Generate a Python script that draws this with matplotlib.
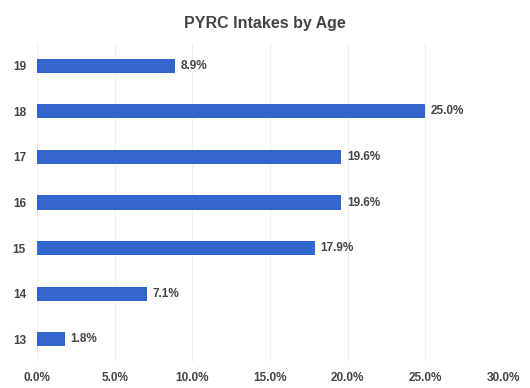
import matplotlib
matplotlib.use("Agg")
import matplotlib.pyplot as plt

ages = ["13", "14", "15", "16", "17", "18", "19"]
shares = [1.8, 7.1, 17.9, 19.6, 19.6, 25.0, 8.9]
x_ticks = [0, 5, 10, 15, 20, 25, 30]

plt.rcParams['font.family'] = ['Liberation Sans', 'DejaVu Sans']

fig = plt.figure(figsize=(5.3, 3.88), dpi=100)
ax = fig.add_axes([0.07, 0.067, 0.879, 0.822])

pos = list(range(len(ages)))
ax.barh(pos, shares, height=0.31, color="#3366cc", zorder=3)
for p, v in zip(pos, shares):
    ax.text(v + 0.35, p, f"{v:.1f}%", va="center", ha="left",
            fontsize=8.5, fontweight="bold", color="#444444")

ax.set_xlim(0, 30)
ax.set_ylim(-0.5, len(ages) - 0.5)
ax.set_xticks(x_ticks)
ax.set_xticklabels([f"{t:.1f}%" for t in x_ticks])
ax.set_yticks(pos)
ax.set_yticklabels(ages)
ax.tick_params(axis="both", length=0, labelsize=8.5, colors="#444444")
ax.tick_params(axis="x", pad=7)
ax.tick_params(axis="y", pad=8)
for lbl in ax.get_xticklabels() + ax.get_yticklabels():
    lbl.set_fontweight("bold")
ax.grid(axis="x", color="#f0f0f0", linewidth=0.8, zorder=0)
for s in ax.spines.values():
    s.set_visible(False)

fig.text(0.5, 0.94, "PYRC Intakes by Age", ha="center", va="center",
         fontsize=11.5, fontweight="bold", color="#444444")

fig.savefig("out.png", dpi=100)
